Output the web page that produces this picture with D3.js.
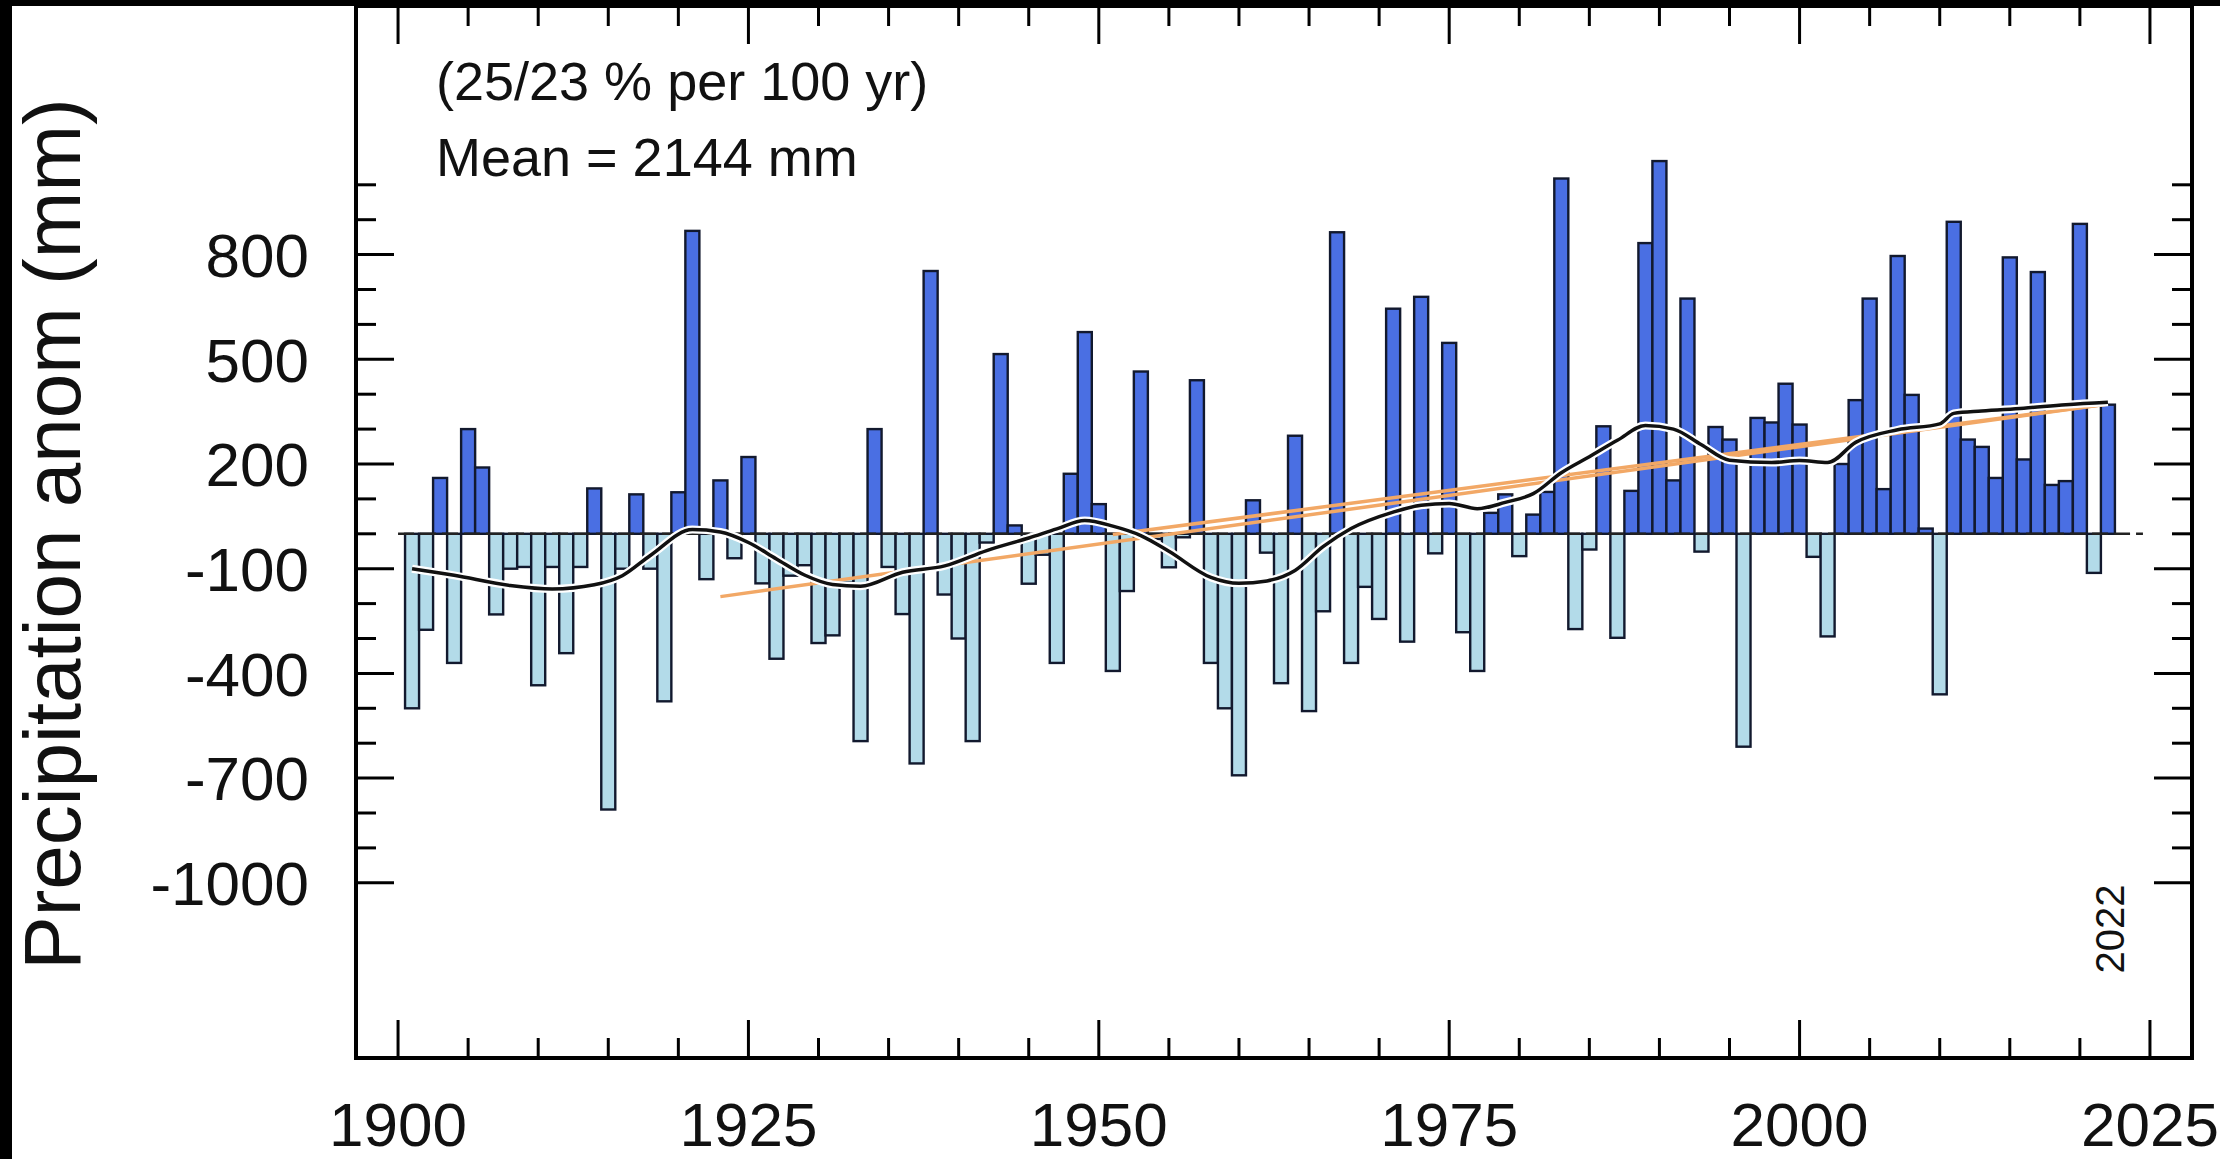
<!DOCTYPE html>
<html>
<head>
<meta charset="utf-8">
<script src="https://cdn.jsdelivr.net/npm/d3@7"></script>
<style>
  body { margin: 0; background: #fff; }
  svg { display: block; font-family: "Liberation Sans", Arial, sans-serif; }
</style>
</head>
<body>
<div id="chart"></div>
<script>
// yearly precipitation anomaly (mm), 1901-2022
var years = d3.range(1901, 2023);
var anomalies = [
  -500, -275, 160, -370, 300, 190, -231, -100, -95, -434,
  -95, -342, -95, 130, -790, -100, 113, -100, -480, 119,
  868, -130, 153, -70, 220, -142, -358, -120, -90, -313,
  -291, -140, -594, 300, -95, -230, -658, 753, -174, -300,
  -594, -25, 515, 24, -143, -60, -370, 172, 578, 85,
  -393, -164, 465, -15, -96, -10, 440, -370, -500, -692,
  96, -54, -428, 281, -508, -222, 864, -370, -152, -244,
  645, -309, 679, -56, 547, -282, -393, 60, 113, -64,
  55, 120, 1018, -273, -45, 308, -298, 123, 833, 1068,
  153, 674, -51, 306, 270, -610, 332, 319, 430, 313,
  -66, -294, 200, 383, 674, 128, 796, 398, 15, -460,
  894, 270, 249, 160, 792, 213, 750, 140, 151, 888,
  -112, 370
];

// smoothed curve
var smoothYears = [1901, 1904, 1908, 1911, 1914, 1916, 1918, 1921, 1923, 1925, 1927, 1929, 1931, 1933,
  1936, 1939, 1942, 1945, 1947, 1949, 1951, 1953, 1955, 1958, 1960, 1962, 1964, 1966, 1968, 1971,
  1973, 1975, 1977, 1979, 1981, 1983, 1985, 1987, 1989, 1991, 1993, 1995, 1998, 2000, 2002, 2004,
  2007, 2010, 2011, 2013, 2016, 2019, 2022];
var smoothValues = [-100, -119, -148, -158, -146, -120, -62, 12, 5, -25, -72, -118, -145, -150,
  -110, -92, -48, -12, 14, 38, 22, -5, -50, -125, -142, -135, -105, -37, 15, 62,
  82, 87, 72, 90, 115, 175, 221, 268, 310, 300, 255, 211, 204, 210, 204, 262,
  298, 315, 345, 352, 360, 370, 377];

// linear trends (start/end)
var trendYears = [[1923, 2022], [1951, 2022]];
var trendValues = [[-180, 372], [-2, 372]];

var yTickValues = [800, 500, 200, -100, -400, -700, -1000];
var xTickValues = [1900, 1925, 1950, 1975, 2000, 2025];
var infoLines = ['(25/23 % per 100 yr)', 'Mean = 2144 mm'];
var yLabel = 'Precipitation anom (mm)';
var lastYearLabel = '2022';

var width = 2220, height = 1159;
var plotLeft = 356, plotRight = 2192, plotTop = 6, plotBottom = 1058;

var svg = d3.select('#chart').append('svg')
  .attr('width', width)
  .attr('height', height);

svg.append('rect').attr('width', width).attr('height', height).attr('fill', '#fff');

var x = d3.scaleLinear().domain([1897, 2028]).range([plotLeft, plotRight]);
var y = d3.scaleLinear().domain([-1000, 800]).range([882.8, 254.6]);
var barW = x(1901) - x(1900);

// bars
svg.append('g')
  .selectAll('rect')
  .data(years)
  .enter()
  .append('rect')
  .attr('x', function(d) { return x(d) - barW / 2; })
  .attr('width', barW)
  .attr('y', function(d, i) { return y(Math.max(0, anomalies[i])); })
  .attr('height', function(d, i) { return Math.abs(y(anomalies[i]) - y(0)); })
  .attr('fill', function(d, i) { return anomalies[i] >= 0 ? '#4a6fe3' : '#b3dbe9'; })
  .attr('stroke', '#12192e')
  .attr('stroke-width', 2.4);

// zero line
svg.append('line')
  .attr('x1', x(1900)).attr('x2', x(2024.5))
  .attr('y1', y(0)).attr('y2', y(0))
  .attr('stroke', '#222')
  .attr('stroke-width', 2.5)
  .attr('stroke-dasharray', '16,6');

// trend lines
trendYears.forEach(function(t, i) {
  svg.append('line')
    .attr('x1', x(t[0])).attr('x2', x(t[1]))
    .attr('y1', y(trendValues[i][0])).attr('y2', y(trendValues[i][1]))
    .attr('stroke', '#f2a866')
    .attr('stroke-width', 3.5);
});

// smoothed line with white halo
var smoothLine = d3.line()
  .x(function(d, i) { return x(smoothYears[i]); })
  .y(function(d) { return y(d); })
  .curve(d3.curveMonotoneX);

svg.append('path')
  .attr('d', smoothLine(smoothValues))
  .attr('fill', 'none')
  .attr('stroke', '#fff')
  .attr('stroke-width', 8);
svg.append('path')
  .attr('d', smoothLine(smoothValues))
  .attr('fill', 'none')
  .attr('stroke', '#111')
  .attr('stroke-width', 3.5);

// frame
svg.append('rect')
  .attr('x', plotLeft).attr('y', plotTop)
  .attr('width', plotRight - plotLeft).attr('height', plotBottom - plotTop)
  .attr('fill', 'none')
  .attr('stroke', '#000')
  .attr('stroke-width', 4);

// x ticks top and bottom
var xMinor = d3.range(1900, 2028, 5);
var ticks = svg.append('g').attr('stroke', '#000').attr('stroke-width', 3);
xMinor.forEach(function(d) {
  var len = d % 25 === 0 ? 38 : 20;
  ticks.append('line').attr('x1', x(d)).attr('x2', x(d)).attr('y1', plotBottom).attr('y2', plotBottom - len);
  ticks.append('line').attr('x1', x(d)).attr('x2', x(d)).attr('y1', plotTop).attr('y2', plotTop + len);
});

// y ticks left and right
var yMinor = d3.range(-1000, 1001, 100);
yMinor.forEach(function(d) {
  var len = yTickValues.indexOf(d) >= 0 ? 38 : 20;
  ticks.append('line').attr('x1', plotLeft).attr('x2', plotLeft + len).attr('y1', y(d)).attr('y2', y(d));
  ticks.append('line').attr('x1', plotRight).attr('x2', plotRight - len).attr('y1', y(d)).attr('y2', y(d));
});

// tick labels
svg.append('g')
  .selectAll('text')
  .data(yTickValues)
  .enter()
  .append('text')
  .attr('x', 309)
  .attr('y', function(d) { return y(d); })
  .attr('dy', '0.36em')
  .attr('text-anchor', 'end')
  .attr('font-size', 62)
  .attr('fill', '#111')
  .text(function(d) { return d; });

svg.append('g')
  .selectAll('text')
  .data(xTickValues)
  .enter()
  .append('text')
  .attr('x', function(d) { return x(d); })
  .attr('y', 1146)
  .attr('text-anchor', 'middle')
  .attr('font-size', 62)
  .attr('fill', '#111')
  .text(function(d) { return d; });

// annotations
svg.append('g')
  .selectAll('text')
  .data(infoLines)
  .enter()
  .append('text')
  .attr('x', 436)
  .attr('y', function(d, i) { return 100 + i * 76; })
  .attr('font-size', 54)
  .attr('fill', '#111')
  .text(function(d) { return d; });

svg.append('text')
  .attr('transform', 'translate(80,534) rotate(-90)')
  .attr('text-anchor', 'middle')
  .attr('font-size', 80)
  .attr('fill', '#111')
  .text(yLabel);

svg.append('text')
  .attr('transform', 'translate(2124,929) rotate(-90)')
  .attr('text-anchor', 'middle')
  .attr('font-size', 40)
  .attr('fill', '#111')
  .text(lastYearLabel);

// black edges of the screenshot
svg.append('rect').attr('x', 0).attr('y', 0).attr('width', width).attr('height', 6).attr('fill', '#000');
svg.append('rect').attr('x', 0).attr('y', 0).attr('width', 12).attr('height', height).attr('fill', '#000');
</script>
</body>
</html>
